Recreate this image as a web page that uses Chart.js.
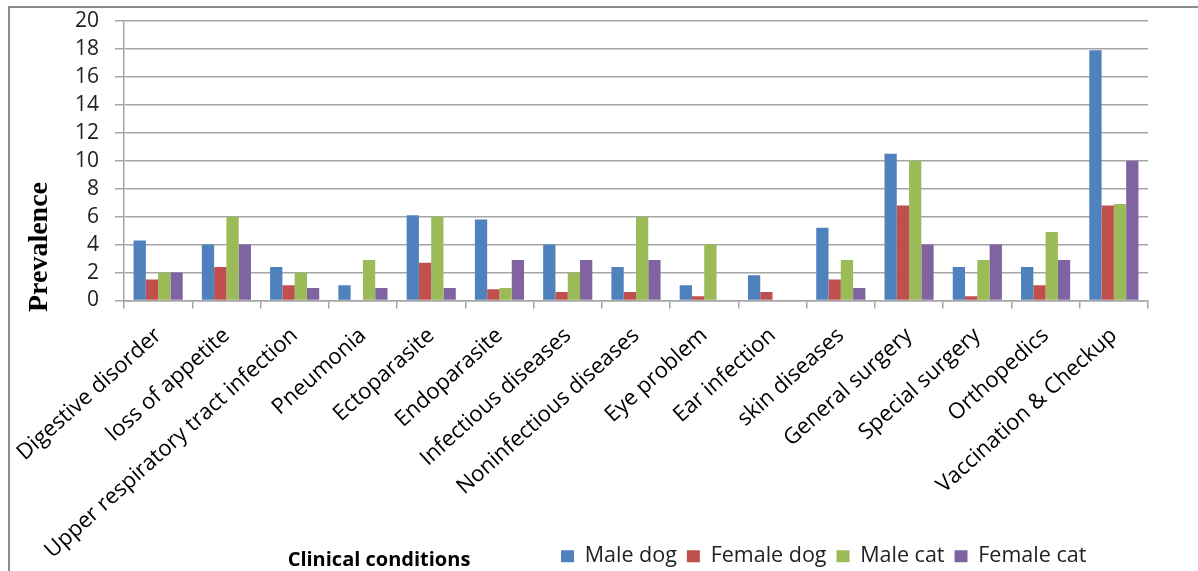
<!DOCTYPE html>
<html lang="en">
<head>
<meta charset="UTF-8">
<title>Prevalence of clinical conditions</title>
<script src="https://cdn.jsdelivr.net/npm/chart.js"></script>
<style>
  html, body { margin: 0; padding: 0; background: #fff; overflow: hidden; }
  #frame { position: absolute; left: 8px; top: 6px; width: 1400px; height: 800px; border: 2px solid #8c8c8c; }
  #wrap { position: absolute; left: 0; top: 0; width: 1198px; height: 571px; }
</style>
</head>
<body>
<div id="frame"></div>
<div id="wrap"><canvas id="chart"></canvas></div>

<script>
  const conditions = [
    'Digestive disorder', 'loss of appetite', 'Upper respiratory tract infection',
    'Pneumonia', 'Ectoparasite', 'Endoparasite', 'Infectious diseases',
    'Noninfectious diseases', 'Eye problem', 'Ear infection', 'skin diseases',
    'General surgery', 'Special surgery', 'Orthopedics', 'Vaccination & Checkup'
  ];
  const maleDog   = [4.3, 4.0, 2.4, 1.1, 6.1, 5.8, 4.0, 2.4, 1.1, 1.8, 5.2, 10.5, 2.4, 2.4, 17.9];
  const femaleDog = [1.5, 2.4, 1.1, 0,   2.7, 0.8, 0.6, 0.6, 0.3, 0.6, 1.5, 6.8,  0.3, 1.1, 6.8];
  const maleCat   = [2.0, 6.0, 2.0, 2.9, 6.0, 0.9, 2.0, 6.0, 4.0, 0,   2.9, 10.0, 2.9, 4.9, 6.9];
  const femaleCat = [2.0, 4.0, 0.9, 0.9, 0.9, 2.9, 2.9, 2.9, 0,   0,   0.9, 4.0,  4.0, 2.9, 10.0];
  const yTicks = [0, 2, 4, 6, 8, 10, 12, 14, 16, 18, 20];
  const xTitle = 'Clinical conditions';
  const yTitle = 'Prevalence';

  const gridColor = '#a6a6a6';
  const sans = '"Open Sans", sans-serif';

  // axis titles sit where Excel put them, legend shifted right of the x title
  const titlesPlugin = {
    id: 'titles',
    afterLayout(chart) {
      const lg = chart.legend;
      const dx = 551 - lg.left;
      lg.left += dx; lg.right += dx;
      lg.top += 6; lg.bottom += 6;
      // let the long rotated labels run down past the legend row
      chart.scales.x.bottom = chart.height;
    },
    afterDraw(chart) {
      const ctx = chart.ctx;
      ctx.save();
      ctx.fillStyle = '#000';
      ctx.textAlign = 'center';
      ctx.textBaseline = 'middle';
      ctx.font = 'bold 20px ' + sans;
      ctx.fillText(xTitle, 379, 560);
      ctx.translate(40, 247);
      ctx.rotate(-Math.PI / 2);
      ctx.font = 'bold 28px "Liberation Serif", serif';
      ctx.fillText(yTitle, 0, 0);
      ctx.restore();
    }
  };

  function series(label, data, color) {
    return { label, data, backgroundColor: color, borderWidth: 0, barPercentage: 1, categoryPercentage: 0.72 };
  }

  new Chart(document.getElementById('chart'), {
    type: 'bar',
    data: {
      labels: conditions,
      datasets: [
        series('Male dog', maleDog, '#4f81bd'),
        series('Female dog', femaleDog, '#c0504d'),
        series('Male cat', maleCat, '#9bbb59'),
        series('Female cat', femaleCat, '#8064a2')
      ]
    },
    options: {
      responsive: true,
      maintainAspectRatio: false,
      animation: false,
      layout: { padding: { top: 21, right: 50, left: 0, bottom: 0 } },
      plugins: {
        tooltip: { enabled: false },
        legend: {
          position: 'bottom',
          align: 'start',
          labels: {
            boxWidth: 13, boxHeight: 12, padding: 10,
            color: '#222', font: { family: sans, size: 21.5 }
          }
        }
      },
      scales: {
        x: {
          afterFit(scale) { scale.height = 229; },
          grid: { drawOnChartArea: false, drawTicks: true, tickLength: 8, color: gridColor, lineWidth: 1.5, offset: true },
          border: { color: gridColor, width: 1.5 },
          ticks: {
            autoSkip: false, minRotation: 42, maxRotation: 42, padding: 14,
            color: '#000', font: { family: sans, size: 22 }
          }
        },
        y: {
          min: 0, max: 20,
          afterFit(scale) {
            scale.width = 124;
            scale.paddingTop = 10;
            scale.paddingBottom = 10;
          },
          afterBuildTicks(scale) { scale.ticks = yTicks.map(v => ({ value: v })); },
          grid: { color: gridColor, lineWidth: 1.5, tickLength: 9 },
          border: { color: gridColor, width: 1.5 },
          ticks: { autoSkip: false, padding: 16, color: '#222', font: { family: sans, size: 21 } }
        }
      }
    },
    plugins: [titlesPlugin]
  });
</script>
</body>
</html>
